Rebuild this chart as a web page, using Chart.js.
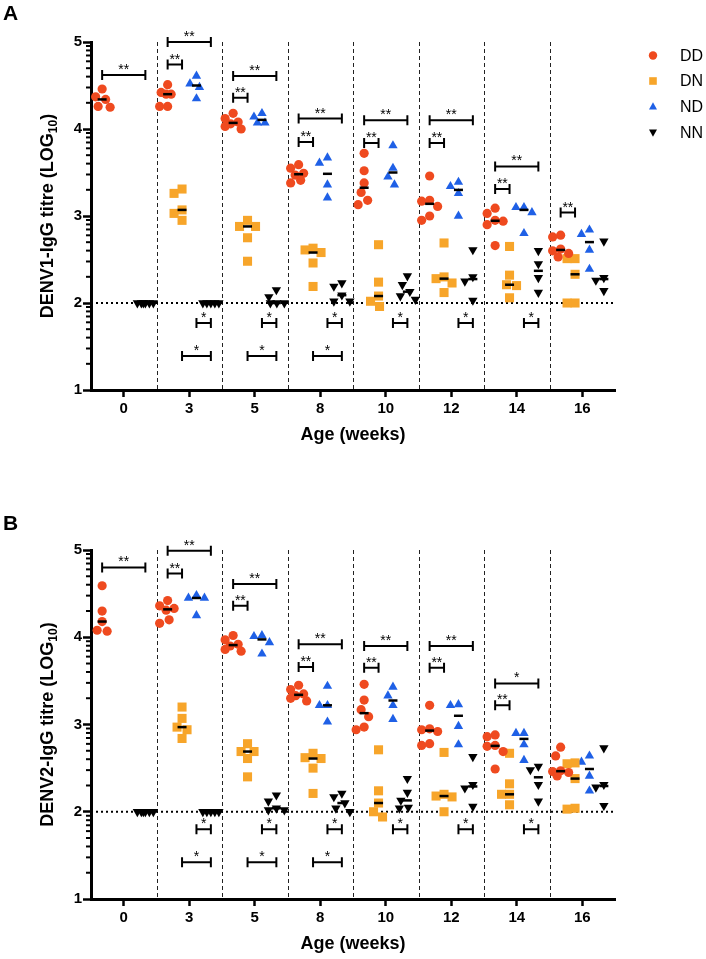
<!DOCTYPE html>
<html lang="en">
<head>
<meta charset="UTF-8">
<title>DENV IgG titres by age</title>
<style>
  body { margin: 0; background: #fff; }
  canvas { display: block; }
</style>
</head>
<body>
<canvas id="chartA" width="706" height="470"></canvas>
<canvas id="chartB" width="706" height="489"></canvas>

<script src="https://cdn.jsdelivr.net/npm/chart.js"></script>
<script>
// ---- data (log10 titres, one inner array per age) ----
const weeks = ['0', '3', '5', '8', '10', '12', '14', '16'];
const groups = ['DD', 'DN', 'ND', 'NN'];

const denv1DD = [
  [4.46, 4.37, 4.34, 4.26, 4.25],
  [4.51, 4.42, 4.40, 4.40, 4.26, 4.26],
  [4.18, 4.12, 4.08, 4.06, 4.03, 4.00],
  [3.59, 3.55, 3.49, 3.47, 3.41, 3.38],
  [3.72, 3.52, 3.38, 3.27, 3.18, 3.13],
  [3.46, 3.18, 3.17, 3.11, 3.00, 2.95],
  [3.09, 3.03, 2.95, 2.94, 2.90, 2.66],
  [2.78, 2.76, 2.62, 2.60, 2.57, 2.53]
];
const denv1DN = [
  [],
  [3.31, 3.26, 3.07, 3.03, 2.95],
  [2.95, 2.88, 2.88, 2.75, 2.48],
  [2.63, 2.61, 2.58, 2.46, 2.19],
  [2.67, 2.24, 2.08, 2.02, 1.96],
  [2.69, 2.30, 2.28, 2.23, 2.12],
  [2.65, 2.32, 2.21, 2.20, 2.06],
  [2.51, 2.51, 2.33, 2.00, 2.00]
];
const denv1ND = [
  [],
  [4.61, 4.52, 4.48, 4.35],
  [4.18, 4.14, 4.07, 4.07],
  [3.67, 3.61, 3.36, 3.21],
  [3.81, 3.55, 3.45, 3.36],
  [3.39, 3.34, 3.26, 3.00],
  [3.10, 3.10, 3.04, 2.80],
  [2.84, 2.79, 2.61, 2.39]
];
const denv1NN = [
  [2, 2, 2, 2, 2, 2],
  [2, 2, 2, 2, 2],
  [2.15, 2.07, 2.00, 2.00, 2.00],
  [2.23, 2.19, 2.09, 2.02, 2.02],
  [2.31, 2.21, 2.13, 2.08, 2.04],
  [2.61, 2.30, 2.25, 2.03],
  [2.60, 2.45, 2.29, 2.12],
  [2.71, 2.29, 2.26, 2.14]
];

const denv2DD = [
  [4.59, 4.30, 4.18, 4.08, 4.07],
  [4.42, 4.36, 4.33, 4.31, 4.20, 4.16],
  [4.02, 3.97, 3.92, 3.90, 3.86, 3.84],
  [3.45, 3.40, 3.35, 3.33, 3.30, 3.27],
  [3.46, 3.28, 3.17, 3.09, 2.97, 2.94],
  [3.22, 2.95, 2.94, 2.92, 2.78, 2.76],
  [2.88, 2.86, 2.76, 2.75, 2.69, 2.49],
  [2.74, 2.64, 2.47, 2.46, 2.45, 2.41]
];
const denv2DN = [
  [],
  [3.20, 3.07, 2.97, 2.94, 2.84],
  [2.78, 2.69, 2.69, 2.61, 2.40],
  [2.67, 2.62, 2.61, 2.50, 2.21],
  [2.71, 2.24, 2.10, 2.00, 1.94],
  [2.68, 2.20, 2.18, 2.17, 2.00],
  [2.67, 2.32, 2.20, 2.20, 2.08],
  [2.56, 2.55, 2.38, 2.04, 2.03]
];
const denv2ND = [
  [],
  [4.48, 4.45, 4.45, 4.25],
  [4.02, 4.01, 3.94, 3.81],
  [3.44, 3.22, 3.22, 3.03],
  [3.43, 3.33, 3.22, 3.06],
  [3.23, 3.22, 2.98, 2.77],
  [2.90, 2.90, 2.77, 2.59],
  [2.64, 2.57, 2.41, 2.24]
];
const denv2NN = [
  [2, 2, 2, 2, 2, 2],
  [2, 2, 2, 2, 2],
  [2.19, 2.12, 2.04, 2.02, 2.02],
  [2.21, 2.17, 2.10, 2.04, 2.00],
  [2.38, 2.22, 2.13, 2.05, 2.04],
  [2.63, 2.31, 2.27, 2.06],
  [2.52, 2.48, 2.31, 2.12],
  [2.73, 2.31, 2.28, 2.07]
];

// significance brackets: [age index, from group, to group, level, stars]
const denv1Sig = [
  [0, 0, 3, 4.62, '**'],
  [1, 0, 3, 5.00, '**'], [1, 0, 1, 4.74, '**'], [1, 2, 3, 1.77, '*'], [1, 1, 3, 1.39, '*'],
  [2, 0, 3, 4.61, '**'], [2, 0, 1, 4.36, '**'], [2, 2, 3, 1.77, '*'], [2, 1, 3, 1.39, '*'],
  [3, 0, 3, 4.12, '**'], [3, 0, 1, 3.85, '**'], [3, 2, 3, 1.77, '*'], [3, 1, 3, 1.39, '*'],
  [4, 0, 3, 4.10, '**'], [4, 0, 1, 3.84, '**'], [4, 2, 3, 1.77, '*'],
  [5, 0, 3, 4.10, '**'], [5, 0, 1, 3.84, '**'], [5, 2, 3, 1.77, '*'],
  [6, 0, 3, 3.57, '**'], [6, 0, 1, 3.31, '**'], [6, 2, 3, 1.77, '*'],
  [7, 0, 1, 3.04, '**']
];
const denv2Sig = [
  [0, 0, 3, 4.80, '**'],
  [1, 0, 3, 4.99, '**'], [1, 0, 1, 4.73, '**'], [1, 2, 3, 1.80, '*'], [1, 1, 3, 1.42, '*'],
  [2, 0, 3, 4.61, '**'], [2, 0, 1, 4.36, '**'], [2, 2, 3, 1.80, '*'], [2, 1, 3, 1.42, '*'],
  [3, 0, 3, 3.92, '**'], [3, 0, 1, 3.66, '**'], [3, 2, 3, 1.80, '*'], [3, 1, 3, 1.42, '*'],
  [4, 0, 3, 3.90, '**'], [4, 0, 1, 3.65, '**'], [4, 2, 3, 1.80, '*'],
  [5, 0, 3, 3.90, '**'], [5, 0, 1, 3.65, '**'], [5, 2, 3, 1.80, '*'],
  [6, 0, 3, 3.47, '*'], [6, 0, 1, 3.22, '**'], [6, 2, 3, 1.80, '*']
];

// ---- styling ----
const FONT = '"Liberation Sans", Arial, Helvetica, sans-serif';
Chart.defaults.font.family = FONT;
Chart.defaults.color = '#000';

const groupOffsets = [-0.33, -0.11, 0.11, 0.33];
const groupStyles = [
  { color: '#EF4A1F', shape: 'circle', r: 4.6, rot: 0 },
  { color: '#F7A52A', shape: 'rect', r: 6.4, rot: 0 },
  { color: '#1F60E6', shape: 'triangle', r: 5.4, rot: 0 },
  { color: '#000000', shape: 'triangle', r: 5.4, rot: 180 }
];

// simple beeswarm so that close values sit side by side
const PX_X = 65.5, PX_Y = 87;
const MIN_GAP = 10, MAX_SHIFT = 8;
function spread(vals, center) {
  const sorted = [...vals].sort((a, b) => b - a);
  const placed = [];
  sorted.forEach(v => {
    let best = 0, bestDist = -1;
    for (let k = 0; k <= MAX_SHIFT * 4; k++) {
      const dx = (k % 2 ? -1 : 1) * Math.ceil(k / 2) * 0.5;
      let d = Infinity;
      placed.forEach(p => {
        d = Math.min(d, Math.hypot(p.dx - dx, (p.v - v) * PX_Y));
      });
      if (d >= MIN_GAP) { best = dx; bestDist = d; break; }
      if (d > bestDist + 0.01) { best = dx; bestDist = d; }
    }
    placed.push({ dx: best, v });
  });
  return placed.map(p => ({ x: center + p.dx / PX_X, y: p.v }));
}

function median(vals) {
  const s = [...vals].sort((a, b) => a - b);
  const m = Math.floor(s.length / 2);
  return s.length % 2 ? s[m] : (s[m - 1] + s[m]) / 2;
}

function buildDatasets(series) {
  const sets = [];
  const medians = [];
  series.forEach((byWeek, g) => {
    const st = groupStyles[g];
    const pts = [];
    byWeek.forEach((vals, w) => {
      if (!vals.length) return;
      pts.push(...spread(vals, w + groupOffsets[g]));
      medians.push({ x: w + groupOffsets[g], y: median(vals) });
    });
    sets.push({
      label: groups[g],
      data: pts,
      pointStyle: st.shape,
      pointRotation: st.rot,
      pointRadius: st.r,
      backgroundColor: st.color,
      borderColor: st.color,
      pointBorderWidth: 0,
      order: 2
    });
  });
  sets.unshift({
    label: 'median',
    data: medians,
    pointStyle: 'line',
    pointRadius: 4.5,
    pointBorderColor: '#000',
    pointBorderWidth: 2.5,
    order: 0
  });
  // detection limit
  sets.push({
    label: 'limit',
    data: [{ x: -0.5, y: 2 }, { x: 7.5, y: 2 }],
    showLine: true,
    borderColor: '#000',
    borderWidth: 2,
    borderDash: [2, 3],
    pointRadius: 0,
    order: 5
  });
  return sets;
}

function drawShape(ctx, st, x, y, r) {
  ctx.beginPath();
  if (st.shape === 'circle') {
    ctx.arc(x, y, r, 0, Math.PI * 2);
  } else if (st.shape === 'rect') {
    ctx.rect(x - r, y - r, 2 * r, 2 * r);
  } else {
    const s = st.rot ? -1 : 1;
    ctx.moveTo(x, y - s * r);
    ctx.lineTo(x + r * 0.95, y + s * r * 0.7);
    ctx.lineTo(x - r * 0.95, y + s * r * 0.7);
    ctx.closePath();
  }
  ctx.fillStyle = st.color;
  ctx.fill();
}

const panelExtras = {
  id: 'panelExtras',
  beforeDatasetsDraw(chart) {
    const { ctx, chartArea: a, scales: { x } } = chart;
    ctx.save();
    ctx.strokeStyle = '#222';
    ctx.lineWidth = 1;
    ctx.setLineDash([4, 3]);
    for (let i = 0; i < weeks.length - 1; i++) {
      const px = Math.round(x.getPixelForValue(i + 0.5)) + 0.5;
      ctx.beginPath();
      ctx.moveTo(px, a.top);
      ctx.lineTo(px, a.bottom);
      ctx.stroke();
    }
    ctx.restore();
  },
  afterDraw(chart, args, opts) {
    const { ctx, chartArea: a, scales: { x, y } } = chart;
    ctx.save();

    // minor log ticks on y axis
    ctx.strokeStyle = '#000';
    ctx.lineWidth = 2;
    for (let d = 1; d < 5; d++) {
      for (let k = 2; k < 10; k++) {
        const py = y.getPixelForValue(d + Math.log10(k));
        ctx.beginPath();
        ctx.moveTo(a.left - 5, py);
        ctx.lineTo(a.left, py);
        ctx.stroke();
      }
    }

    // significance brackets
    ctx.lineWidth = 2;
    ctx.fillStyle = '#000';
    ctx.font = '14px ' + FONT;
    ctx.textAlign = 'center';
    ctx.textBaseline = 'alphabetic';
    opts.sig.forEach(([w, g1, g2, lvl, stars]) => {
      const x1 = x.getPixelForValue(w + groupOffsets[g1]);
      const x2 = x.getPixelForValue(w + groupOffsets[g2]);
      const py = y.getPixelForValue(lvl);
      ctx.beginPath();
      ctx.moveTo(x1, py); ctx.lineTo(x2, py);
      ctx.moveTo(x1, py - 5); ctx.lineTo(x1, py + 5);
      ctx.moveTo(x2, py - 5); ctx.lineTo(x2, py + 5);
      ctx.stroke();
      ctx.fillText(stars, (x1 + x2) / 2, py - 1);
    });

    // y axis title with subscript
    ctx.save();
    ctx.translate(46, (a.top + a.bottom) / 2);
    ctx.rotate(-Math.PI / 2);
    ctx.textAlign = 'left';
    ctx.font = 'bold 18px ' + FONT;
    const w1 = ctx.measureText(opts.yTitle).width;
    const w3 = ctx.measureText(')').width;
    ctx.font = 'bold 12px ' + FONT;
    const w2 = ctx.measureText('10').width;
    let sx = -(w1 + w2 + w3) / 2;
    ctx.font = 'bold 18px ' + FONT;
    ctx.fillText(opts.yTitle, sx, 6.5);
    sx += w1;
    ctx.font = 'bold 12px ' + FONT;
    ctx.fillText('10', sx, 10.5);
    sx += w2;
    ctx.font = 'bold 18px ' + FONT;
    ctx.fillText(')', sx, 6.5);
    ctx.restore();

    // panel letter
    ctx.font = 'bold 21px ' + FONT;
    ctx.textAlign = 'left';
    ctx.fillText(opts.letter, 3, opts.letterY);

    // legend
    if (opts.legend) {
      ctx.font = '16px ' + FONT;
      ctx.textBaseline = 'middle';
      const rows = [55.5, 81, 106.5, 132.5];
      groups.forEach((name, g) => {
        const st = groupStyles[g];
        drawShape(ctx, st, 653, rows[g], st.shape === 'rect' ? 3.8 : 4.2);
        ctx.fillStyle = '#000';
        ctx.fillText(name, 680, rows[g] + 1);
      });
    }
    ctx.restore();
  }
};

function makeChart(id, series, sig, yTitle, letter, letterY, legend, pad) {
  return new Chart(document.getElementById(id), {
    type: 'scatter',
    data: { datasets: buildDatasets(series) },
    options: {
      responsive: false,
      animation: false,
      devicePixelRatio: 1,
      layout: { padding: pad },
      plugins: {
        legend: { display: false },
        tooltip: { enabled: false },
        panelExtras: { sig, yTitle, letter, letterY, legend }
      },
      scales: {
        x: {
          type: 'linear',
          min: -0.5,
          max: 7.5,
          afterBuildTicks: s => { s.ticks = weeks.map((_, i) => ({ value: i })); },
          afterFit: s => { s.height = 56; },
          ticks: {
            callback: v => weeks[v],
            color: '#000',
            font: { size: 15, weight: 'bold' },
            padding: 3,
            maxRotation: 0,
            autoSkip: false
          },
          grid: { drawOnChartArea: false, tickLength: 7, tickWidth: 2.5, tickColor: '#000' },
          border: { width: 3, color: '#000' },
          title: { display: true, text: 'Age (weeks)', color: '#000', font: { size: 18, weight: 'bold' }, padding: 0 }
        },
        y: {
          min: 1,
          max: 5,
          afterFit: s => { s.width = 91; },
          ticks: { stepSize: 1, color: '#000', font: { size: 15, weight: 'bold' }, padding: 1 },
          grid: { drawOnChartArea: false, tickLength: 8, tickWidth: 2.5, tickColor: '#000' },
          border: { width: 3, color: '#000' }
        }
      }
    },
    plugins: [panelExtras]
  });
}

makeChart('chartA', [denv1DD, denv1DN, denv1ND, denv1NN], denv1Sig,
  'DENV1-IgG titre (LOG', 'A', 20, true, { left: 0, right: 91, top: 42, bottom: 24 });
makeChart('chartB', [denv2DD, denv2DN, denv2ND, denv2NN], denv2Sig,
  'DENV2-IgG titre (LOG', 'B', 60, false, { left: 0, right: 91, top: 80, bottom: 4 });
</script>
</body>
</html>
